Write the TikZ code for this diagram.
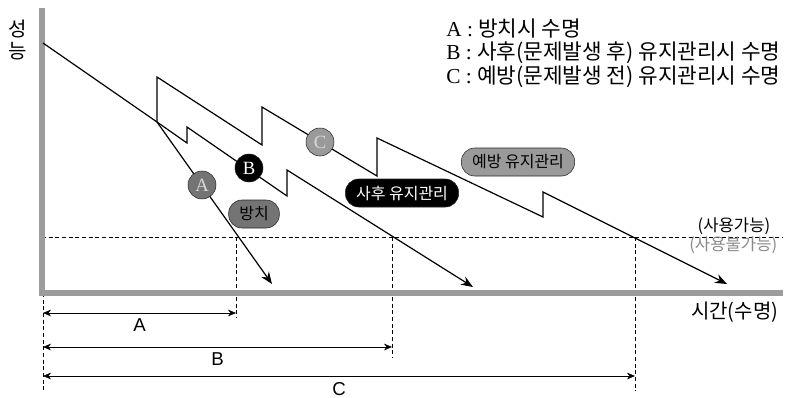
\documentclass[tikz,border=0pt]{standalone}
\usepackage{fontspec}
\setmainfont{Liberation Serif}
\setsansfont{Liberation Sans}
\newfontfamily\kr{Noto Sans CJK KR}
\usetikzlibrary{arrows.meta, positioning, calc}
\definecolor{axisgray}{HTML}{9C9C9C}
\definecolor{tagdark}{HTML}{747474}
\definecolor{taglight}{HTML}{9A9A9A}
\definecolor{inkgray}{HTML}{8A8A8A}

\begin{document}
\begin{tikzpicture}[
    x=0.75pt, y=-0.75pt,
    axisbar/.style={line width=5pt, color=axisgray},
    lifeline/.style={line width=0.9pt, line join=miter},
    lifearrow/.style={lifeline, -{Stealth[length=9pt, width=7pt, inset=3pt]}},
    guide/.style={thin, dash pattern=on 3pt off 2pt},
    span/.style={thin, {Stealth[length=6pt, width=5pt]}-{Stealth[length=6pt, width=5pt]}},
    marker/.style={circle, draw=black!85, thin, minimum size=21pt, inner sep=0pt, font=\fontsize{14}{14}\selectfont},
    tag/.style={rectangle, rounded corners=10pt, draw=black!85, thin, minimum height=21pt, inner xsep=8pt, font=\kr\fontsize{12}{12}\selectfont},
    legend/.style={anchor=west, inner sep=0pt, font=\fontsize{16}{16}\selectfont},
  ]
  \useasboundingbox (0,0) rectangle (786,397);

  \coordinate (origin) at (43,293);
  \coordinate (start) at (43,43);
  \coordinate (split) at (157,122);
  \coordinate (lifeA) at (236,237);
  \coordinate (lifeB) at (392,237);
  \coordinate (lifeC) at (635,237);
  \coordinate (endA) at (272,284);
  \coordinate (endB) at (473,287);
  \coordinate (endC) at (727,284);

  \draw[guide] (42,237) -- (783,237);
  \draw[guide] (lifeA) -- (lifeA |- 0,318);
  \draw[guide] (lifeB) -- (lifeB |- 0,358);
  \draw[guide] (lifeC) -- (lifeC |- 0,391);
  \draw[guide] (origin) -- (origin |- 0,391);

  \draw[axisbar] (42,8) -- (42,296);
  \draw[axisbar] (40,293) -- (783,293);

  \draw[lifeline] (start) -- (split);
  \draw[lifearrow] (split) -- (endA);
  \draw[lifearrow] (split) -- (187,143) -- (187,127) -- (287,196) -- (287,170) -- (endB);
  \draw[lifearrow] (split) -- (157,77) -- (262,145) -- (262,107) -- (377,176) -- (377,138) -- (543,217) -- (543,192) -- (endC);

  \node[marker, fill=tagdark, text=white!85!black] (markA) at (202,185) {A};
  \node[marker, fill=black, text=white] (markB) at (249,168) {B};
  \node[marker, fill=taglight, text=white!85!black] (markC) at (320,142) {C};

  \node[tag, fill=tagdark] (neglect) at (254,214) {방치};
  \node[tag, fill=black, text=white] (repair) at (402,193) {사후 유지관리};
  \node[tag, fill=taglight] (prevent) at (518,162) {예방 유지관리};

  \draw[span] (origin |- 0,313) -- node[below=1pt, font=\sffamily\fontsize{14}{14}\selectfont] (dimA) {A} (lifeA |- 0,313);
  \draw[span] (origin |- 0,347) -- node[below=1pt, font=\sffamily\fontsize{14}{14}\selectfont] (dimB) {B} (lifeB |- 0,347);
  \draw[span] (origin |- 0,376) -- node[below=1pt, font=\sffamily\fontsize{14}{14}\selectfont] (dimC) {C} (lifeC |- 0,376);

  \node[font=\kr\fontsize{15}{15}\selectfont] (perf1) at (18,29) {성};
  \node[font=\kr\fontsize{15}{15}\selectfont] (perf2) at (18,51) {능};
  \node[font=\kr\fontsize{15}{15}\selectfont, anchor=east] (time) at (783,312) {시간(수명)};
  \node[font=\kr\fontsize{12.5}{12.5}\selectfont, anchor=east] (usable) at (775,226) {(사용가능)};
  \node[font=\kr\fontsize{12.5}{12.5}\selectfont, anchor=east, text=inkgray] (unusable) at (782,245) {(사용불가능)};

  \node[legend] (legA) at (446,29) {A : {\kr 방치시 수명}};
  \node[legend] (legB) at (446,53) {B : {\kr 사후(문제발생 후) 유지관리시 수명}};
  \node[legend] (legC) at (446,77) {C : {\kr 예방(문제발생 전) 유지관리시 수명}};
\end{tikzpicture}
\end{document}
